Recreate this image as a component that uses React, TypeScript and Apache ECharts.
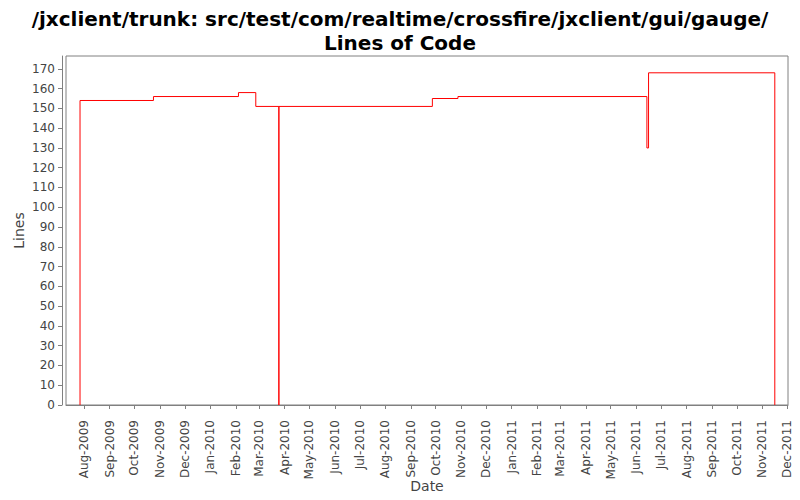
import React, { useEffect, useRef } from 'react';
import * as echarts from 'echarts';

// step points: [date, lines of code]
const changeDates = [
    '2009-07-27', '2009-07-27', '2009-10-24', '2010-02-04', '2010-02-25',
    '2010-03-25', '2010-03-25', '2010-09-27', '2010-10-28', '2011-06-14',
    '2011-06-16', '2011-11-16', '2011-11-16',
];
const lineCounts = [0, 154, 156, 158, 151, 0, 151, 155, 156, 130, 168, 168, 0];

const monthTicks = [
    '2009-08', '2009-09', '2009-10', '2009-11', '2009-12',
    '2010-01', '2010-02', '2010-03', '2010-04', '2010-05', '2010-06',
    '2010-07', '2010-08', '2010-09', '2010-10', '2010-11', '2010-12',
    '2011-01', '2011-02', '2011-03', '2011-04', '2011-05', '2011-06',
    '2011-07', '2011-08', '2011-09', '2011-10', '2011-11', '2011-12',
];
const monthNames = ['Jan', 'Feb', 'Mar', 'Apr', 'May', 'Jun', 'Jul', 'Aug', 'Sep', 'Oct', 'Nov', 'Dec'];
const yTicks = [0, 10, 20, 30, 40, 50, 60, 70, 80, 90, 100, 110, 120, 130, 140, 150, 160, 170];

const toTime = (s: string) => {
    const p = s.split('-').map(Number);
    return Date.UTC(p[0], p[1] - 1, p[2] || 1);
};

const fmtMonth = (v: number) => {
    const d = new Date(v);
    return monthNames[d.getUTCMonth()] + '-' + d.getUTCFullYear();
};

const App: React.FC = () => {
    const chartRef = useRef<HTMLDivElement>(null);

    useEffect(() => {
        const chartDom = chartRef.current!;
        const myChart = echarts.init(chartDom, null, { renderer: 'svg' });
        const tickValues = monthTicks.map(toTime);
        const font = '"DejaVu Sans", sans-serif';

        const option: echarts.EChartsOption = {
            animation: false,
            backgroundColor: '#fff',
            title: {
                text: '/jxclient/trunk: src/test/com/realtime/crossfire/jxclient/gui/gauge/\nLines of Code',
                left: 'center',
                top: 2,
                textStyle: {
                    fontFamily: font,
                    fontWeight: 'bold',
                    fontSize: 20,
                    lineHeight: 24,
                    color: '#000',
                },
            },
            grid: {
                left: 66,
                top: 56,
                right: 12,
                bottom: 95,
                show: true,
                borderColor: '#808080',
                borderWidth: 1,
                backgroundColor: '#fff',
            },
            xAxis: {
                type: 'value',
                min: toTime('2009-07-10'),
                max: toTime('2011-12-02'),
                offset: 4,
                name: 'Date',
                nameLocation: 'middle',
                nameGap: 70,
                nameMoveOverlap: false,
                nameTextStyle: { fontFamily: font, fontSize: 14, color: '#444' },
                axisLine: { show: true, lineStyle: { color: '#808080' } },
                axisTick: {
                    show: true,
                    length: 4,
                    customValues: tickValues,
                    lineStyle: { color: '#808080' },
                },
                axisLabel: {
                    customValues: tickValues,
                    rotate: 90,
                    margin: 11,
                    fontFamily: font,
                    fontSize: 12,
                    color: '#444',
                    formatter: (v: number) => fmtMonth(v),
                },
                splitLine: { show: false },
            },
            yAxis: {
                type: 'value',
                min: 0,
                max: 176.5,
                offset: 4,
                name: 'Lines',
                nameLocation: 'middle',
                nameGap: 36,
                nameMoveOverlap: false,
                nameTextStyle: { fontFamily: font, fontSize: 14, color: '#444' },
                axisLine: { show: true, lineStyle: { color: '#808080' } },
                axisTick: {
                    show: true,
                    length: 4,
                    customValues: yTicks,
                    lineStyle: { color: '#808080' },
                },
                axisLabel: {
                    customValues: yTicks,
                    margin: 7,
                    fontFamily: font,
                    fontSize: 12,
                    color: '#444',
                },
                splitLine: { show: false },
            },
            series: [
                {
                    type: 'line',
                    step: 'end',
                    showSymbol: false,
                    data: changeDates.map((d, i) => [toTime(d), lineCounts[i]]),
                    lineStyle: { color: '#ff0000', width: 1 },
                    itemStyle: { color: '#ff0000' },
                },
            ],
        };

        myChart.setOption(option);

        return () => {
            myChart.dispose();
        };
    }, []);

    return (
        <div
            ref={chartRef}
            style={{ position: 'absolute', left: 0, top: 0, width: 800, height: 500 }}
        />
    );
};

export default App;
